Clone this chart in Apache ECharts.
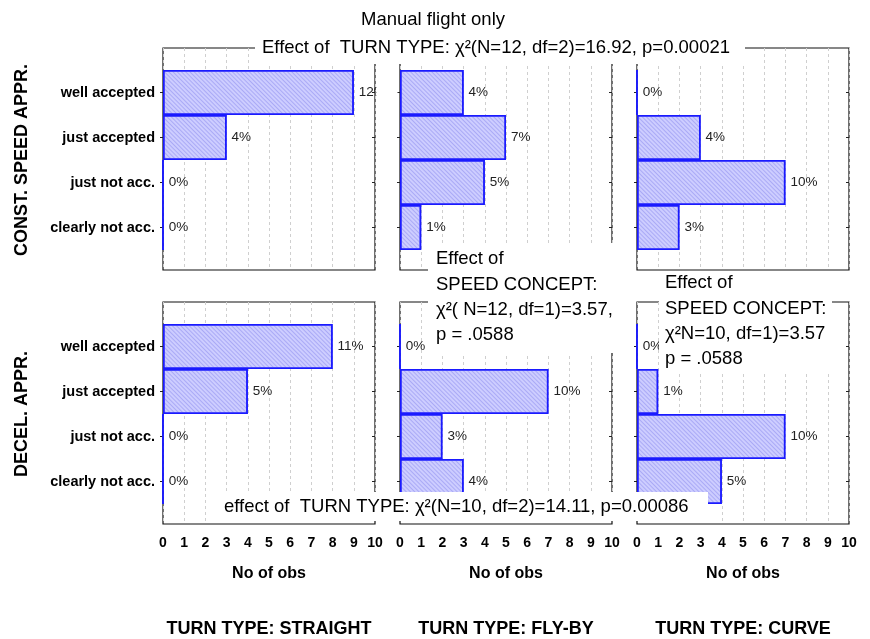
<!DOCTYPE html>
<html>
<head>
<meta charset="utf-8">
<script src="https://cdn.jsdelivr.net/npm/echarts@6/dist/echarts.min.js"></script>
<style>
  html, body { margin: 0; padding: 0; background: #fff; }
  #chart { width: 870px; height: 639px; }
</style>
</head>
<body>
<div id="chart"></div>
<script>
// Manual flight only - acceptance ratings by turn type and speed concept
const categories = ['well accepted', 'just accepted', 'just not acc.', 'clearly not acc.'];
const rowNames = ['CONST. SPEED APPR.', 'DECEL. APPR.'];
const turnTypes = ['TURN TYPE: STRAIGHT', 'TURN TYPE: FLY-BY', 'TURN TYPE: CURVE'];
const xTicks = [0, 10, 1]; // min, max, interval

// No of obs, top -> bottom in category order
const constStraight = [9, 3, 0, 0];
const constFlyby = [3, 5, 4, 1];
const constCurve = [0, 3, 7, 2];
const decelStraight = [8, 4, 0, 0];
const decelFlyby = [0, 7, 2, 3];
const decelCurve = [0, 1, 7, 4];

// percent labels printed next to the bars
const constStraightPct = ['12%', '4%', '0%', '0%'];
const constFlybyPct = ['4%', '7%', '5%', '1%'];
const constCurvePct = ['0%', '4%', '10%', '3%'];
const decelStraightPct = ['11%', '5%', '0%', '0%'];
const decelFlybyPct = ['0%', '10%', '3%', '4%'];
const decelCurvePct = ['0%', '1%', '10%', '5%'];

const panels = [
    [constStraight, constStraightPct], [constFlyby, constFlybyPct], [constCurve, constCurvePct],
    [decelStraight, decelStraightPct], [decelFlyby, decelFlybyPct], [decelCurve, decelCurvePct],
];

const FONT = '"Liberation Sans", Arial, sans-serif';
const NOTE_SIZE = 18.5;
const colLeft = [163, 400, 637];
const colWidth = 212;
const rowTop = [48, 302];
const rowHeight = 222;
const barTopOffset = 22;
const barHeight = 180;

const grid = [], xAxis = [], yAxis = [], series = [];

panels.forEach((p, i) => {
    const row = Math.floor(i / 3), col = i % 3;
    const left = colLeft[col], top = rowTop[row];
    const isBottom = row === 1;

    // frame grid: border, dashed grid lines, x labels
    const fg = grid.length;
    grid.push({
        left: left, top: top, width: colWidth, height: rowHeight,
        show: true, borderColor: '#111', borderWidth: 1.2,
        backgroundColor: 'transparent', outerBoundsMode: 'none',
    });
    xAxis.push({
        type: 'value', gridIndex: fg, min: xTicks[0], max: xTicks[1], interval: xTicks[2],
        axisLine: { show: false }, axisTick: { show: false },
        axisLabel: { show: isBottom, color: '#000', fontWeight: 'bold', fontSize: 14,
                     fontFamily: FONT, margin: 12 },
        splitLine: { show: true, lineStyle: { color: '#cfcfcf', type: [3, 3], width: 1 } },
        name: isBottom ? 'No of obs' : '', nameLocation: 'middle', nameGap: 42,
        nameTextStyle: { color: '#000', fontWeight: 'bold', fontSize: 16, fontFamily: FONT },
    });
    yAxis.push({ type: 'value', gridIndex: fg, min: 0, max: 1, show: false });

    // bar grid
    const bg = grid.length;
    grid.push({
        left: left, top: top + barTopOffset, width: colWidth, height: barHeight,
        outerBoundsMode: 'none',
    });
    const bx = xAxis.length;
    xAxis.push({ type: 'value', gridIndex: bg, min: xTicks[0], max: xTicks[1], show: false });
    const by = yAxis.length;
    yAxis.push({
        type: 'category', gridIndex: bg, data: categories, inverse: true,
        axisLine: { show: false },
        axisTick: { show: true, length: 3, alignWithLabel: true, lineStyle: { color: '#222' } },
        axisLabel: { show: col === 0, color: '#000', fontWeight: 'bold', fontSize: 14.5,
                     fontFamily: FONT, margin: 8 },
        splitLine: { show: false },
    });
    yAxis.push({
        type: 'category', gridIndex: bg, data: categories, inverse: true, position: 'right',
        axisLine: { show: false },
        axisTick: { show: true, inside: true, length: 3, alignWithLabel: true, lineStyle: { color: '#222' } },
        axisLabel: { show: false },
        splitLine: { show: false },
    });

    const pct = p[1];
    series.push({
        type: 'bar', xAxisIndex: bx, yAxisIndex: by, data: p[0],
        barCategoryGap: '0%', silent: true, z: 3,
        itemStyle: {
            color: '#cdcdff', borderColor: '#1a1aff', borderWidth: 1.5,
            decal: { symbol: 'rect', symbolSize: 1, dashArrayX: [1, 0], dashArrayY: [1, 1.6],
                     rotation: Math.PI / 4, color: 'rgba(90,90,225,0.3)' },
        },
        label: {
            show: true, position: 'right', distance: 5,
            formatter: (d) => pct[d.dataIndex],
            color: '#222', fontSize: 13.5, fontFamily: FONT,
        },
    });
});

function textEl(text, x, y, opts) {
    return {
        type: 'text', z: 100,
        style: Object.assign({ text: text, x: x, y: y, fill: '#000', fontSize: NOTE_SIZE,
                               fontFamily: FONT, align: 'left', verticalAlign: 'middle' }, opts || {}),
    };
}
function whiteBox(x, y, w, h) {
    return { type: 'rect', z: 99, shape: { x: x, y: y, width: w, height: h },
             style: { fill: '#fff' } };
}

const graphic = [
    textEl('Manual flight only', 433, 20, { align: 'center' }),

    whiteBox(255, 33, 490, 31),
    textEl('Effect of  TURN TYPE: χ²(N=12, df=2)=16.92, p=0.00021', 262, 48),

    whiteBox(428, 243, 194, 110),
    textEl('Effect of\nSPEED CONCEPT:\nχ²( N=12, df=1)=3.57,\np = .0588', 436, 246.5,
           { verticalAlign: 'top', lineHeight: 25.3 }),

    whiteBox(659, 272, 173, 102),
    textEl('Effect of\nSPEED CONCEPT:\nχ²N=10, df=1)=3.57\np = .0588', 665, 270.5,
           { verticalAlign: 'top', lineHeight: 25.3 }),

    whiteBox(222, 492, 486, 29),
    textEl('effect of  TURN TYPE: χ²(N=10, df=2)=14.11, p=0.00086', 224, 507),

    // the frame cuts off the 12% label
    whiteBox(376.5, 82, 21, 20),
];

rowNames.forEach((name, r) => {
    graphic.push({
        type: 'text', z: 100, x: 22, y: rowTop[r] + barTopOffset + barHeight / 2, rotation: Math.PI / 2,
        style: { text: name, x: 0, y: 0, fill: '#000', fontSize: 18, fontWeight: 'bold',
                 fontFamily: FONT, align: 'center', verticalAlign: 'middle' },
    });
});
turnTypes.forEach((name, c) => {
    graphic.push(textEl(name, colLeft[c] + colWidth / 2, 629,
                        { align: 'center', fontWeight: 'bold', fontSize: 18 }));
});

const chart = echarts.init(document.getElementById('chart'), null, { renderer: 'canvas' });
chart.setOption({
    backgroundColor: '#fff',
    animation: false,
    grid: grid,
    xAxis: xAxis,
    yAxis: yAxis,
    series: series,
    graphic: { elements: graphic },
});
</script>
</body>
</html>
